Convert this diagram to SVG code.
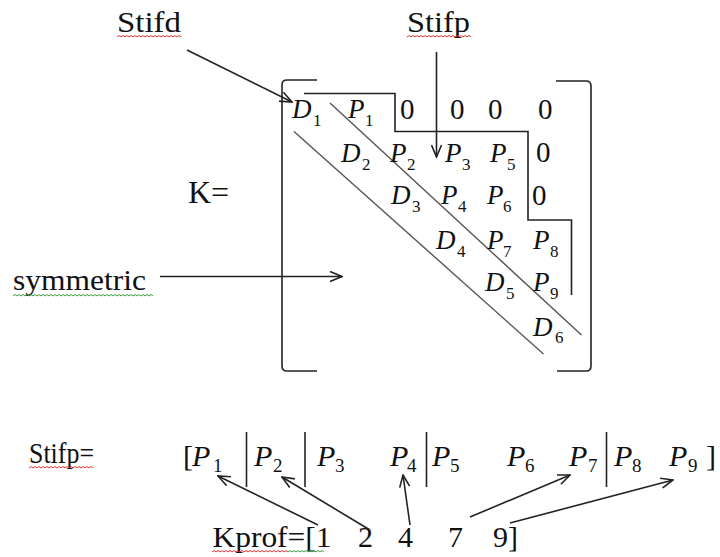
<svg xmlns="http://www.w3.org/2000/svg" width="720" height="557" viewBox="0 0 720 557" font-family="Liberation Serif, serif">
<style>
text{font-family:'Liberation Serif',serif}
.lbl{font-size:30px;fill:#111}
.m{font-style:italic;font-size:27px;fill:#111}
.ms{font-size:17px;fill:#111}
.z{font-size:29px;fill:#111}
.b{font-style:italic;font-size:30px;fill:#111}
.bs{font-size:19px;fill:#111}
.ln{fill:none;stroke:#222;stroke-width:1.6}
.dg{fill:none;stroke:#555;stroke-width:1.4}
.conn{fill:none;stroke:#222;stroke-width:1.6;marker-end:url(#open)}
.sqr{fill:none;stroke:#e03030;stroke-width:1}
.sqg{fill:none;stroke:#3a9a3a;stroke-width:1}
</style>
<defs>
<marker id="open" viewBox="0 0 14 12" refX="13" refY="6" markerWidth="14" markerHeight="12" markerUnits="userSpaceOnUse" orient="auto">
<path d="M1,1 L13,6 L1,11" fill="none" stroke="#222" stroke-width="1.6"/>
</marker>
</defs>
<rect width="720" height="557" fill="#fff"/>

<g id="label-stifd">
<text class="lbl" x="117" y="32" textLength="64" lengthAdjust="spacingAndGlyphs">Stifd</text>
<path class="sqr" d="M117,37 l2,-1.5 l2,1.5 l2,-1.5 l2,1.5 l2,-1.5 l2,1.5 l2,-1.5 l2,1.5 l2,-1.5 l2,1.5 l2,-1.5 l2,1.5 l2,-1.5 l2,1.5 l2,-1.5 l2,1.5 l2,-1.5 l2,1.5 l2,-1.5 l2,1.5 l2,-1.5 l2,1.5 l2,-1.5 l2,1.5 l2,-1.5 l2,1.5 l2,-1.5 l2,1.5 l2,-1.5 l2,1.5 l2,-1.5 l2,1.5"/>
</g>
<g id="label-stifp-top">
<text class="lbl" x="407" y="32" textLength="63" lengthAdjust="spacingAndGlyphs">Stifp</text>
<path class="sqr" d="M407,37 l2,-1.5 l2,1.5 l2,-1.5 l2,1.5 l2,-1.5 l2,1.5 l2,-1.5 l2,1.5 l2,-1.5 l2,1.5 l2,-1.5 l2,1.5 l2,-1.5 l2,1.5 l2,-1.5 l2,1.5 l2,-1.5 l2,1.5 l2,-1.5 l2,1.5 l2,-1.5 l2,1.5 l2,-1.5 l2,1.5 l2,-1.5 l2,1.5 l2,-1.5 l2,1.5 l2,-1.5 l2,1.5 l2,-1.5 l2,1.5"/>
</g>
<g id="label-k">
<text class="lbl" x="188" y="203" style="font-size:32px">K=</text>
</g>
<g id="label-symmetric">
<text class="lbl" x="13" y="290" textLength="133" lengthAdjust="spacingAndGlyphs">symmetric</text>
<path class="sqg" d="M13,296 l2,-1.5 l2,1.5 l2,-1.5 l2,1.5 l2,-1.5 l2,1.5 l2,-1.5 l2,1.5 l2,-1.5 l2,1.5 l2,-1.5 l2,1.5 l2,-1.5 l2,1.5 l2,-1.5 l2,1.5 l2,-1.5 l2,1.5 l2,-1.5 l2,1.5 l2,-1.5 l2,1.5 l2,-1.5 l2,1.5 l2,-1.5 l2,1.5 l2,-1.5 l2,1.5 l2,-1.5 l2,1.5 l2,-1.5 l2,1.5 l2,-1.5 l2,1.5 l2,-1.5 l2,1.5 l2,-1.5 l2,1.5 l2,-1.5 l2,1.5 l2,-1.5 l2,1.5 l2,-1.5 l2,1.5 l2,-1.5 l2,1.5 l2,-1.5 l2,1.5 l2,-1.5 l2,1.5 l2,-1.5 l2,1.5 l2,-1.5 l2,1.5 l2,-1.5 l2,1.5 l2,-1.5 l2,1.5 l2,-1.5 l2,1.5 l2,-1.5 l2,1.5 l2,-1.5 l2,1.5 l2,-1.5 l2,1.5 l2,-1.5 l2,1.5 l2,-1.5 l2,1.5"/>
</g>

<g id="matrix">
<path class="ln" d="M317,80 L287,80 Q282,80 282,85 L282,366 Q282,371 287,371 L317,371"/>
<path class="ln" d="M556,81 L586,81 Q591,81 591,86 L591,366 Q591,371 586,371 L557,371"/>
<path class="ln" d="M304,93.5 L395,93.5 L395,131.5 L528,131.5 L528,220 L571.5,220 L571.5,295"/>
<line class="dg" x1="330" y1="103" x2="581.5" y2="335"/>
<line class="dg" x1="294" y1="131.5" x2="543.5" y2="354"/>

<text class="m" x="292" y="118">D</text><text class="ms" x="313" y="126">1</text>
<text class="m" x="348" y="118">P</text><text class="ms" x="365" y="126">1</text>
<text class="z" x="400" y="119">0</text><text class="z" x="450" y="119">0</text><text class="z" x="488" y="119">0</text><text class="z" x="538" y="119">0</text>

<text class="m" x="341" y="162">D</text><text class="ms" x="362" y="170">2</text>
<text class="m" x="390" y="162">P</text><text class="ms" x="407" y="170">2</text>
<text class="m" x="445" y="162">P</text><text class="ms" x="462" y="170">3</text>
<text class="m" x="490" y="162">P</text><text class="ms" x="507" y="170">5</text>
<text class="z" x="536" y="162">0</text>

<text class="m" x="391" y="204">D</text><text class="ms" x="412" y="212">3</text>
<text class="m" x="441" y="204">P</text><text class="ms" x="458" y="212">4</text>
<text class="m" x="487" y="204">P</text><text class="ms" x="503" y="212">6</text>
<text class="z" x="532" y="205">0</text>

<text class="m" x="436" y="249">D</text><text class="ms" x="457" y="257">4</text>
<text class="m" x="487" y="249">P</text><text class="ms" x="503" y="257">7</text>
<text class="m" x="533" y="249">P</text><text class="ms" x="550" y="257">8</text>

<text class="m" x="485" y="291">D</text><text class="ms" x="506" y="299">5</text>
<text class="m" x="533" y="291">P</text><text class="ms" x="550" y="299">9</text>

<text class="m" x="533" y="336">D</text><text class="ms" x="555" y="343">6</text>
</g>

<g id="stifp-vector">
<text class="lbl" x="29" y="463" textLength="65" lengthAdjust="spacingAndGlyphs">Stifp=</text>
<path class="sqr" d="M29,468 l2,-1.5 l2,1.5 l2,-1.5 l2,1.5 l2,-1.5 l2,1.5 l2,-1.5 l2,1.5 l2,-1.5 l2,1.5 l2,-1.5 l2,1.5 l2,-1.5 l2,1.5 l2,-1.5 l2,1.5 l2,-1.5 l2,1.5 l2,-1.5 l2,1.5 l2,-1.5 l2,1.5 l2,-1.5 l2,1.5 l2,-1.5 l2,1.5 l2,-1.5 l2,1.5 l2,-1.5 l2,1.5 l2,-1.5 l2,1.5"/>
<text class="z" x="183" y="466" style="font-size:30px">[</text>
<text class="b" x="192" y="466">P</text><text class="bs" x="213" y="472">1</text>
<line class="ln" x1="246.5" y1="432" x2="246.5" y2="487"/>
<text class="b" x="254" y="466">P</text><text class="bs" x="273" y="472">2</text>
<line class="ln" x1="305" y1="432" x2="305" y2="487"/>
<text class="b" x="317" y="466">P</text><text class="bs" x="335" y="472">3</text>
<text class="b" x="390" y="466">P</text><text class="bs" x="407" y="472">4</text>
<line class="ln" x1="426.5" y1="432" x2="426.5" y2="487"/>
<text class="b" x="432" y="466">P</text><text class="bs" x="450" y="472">5</text>
<text class="b" x="507" y="466">P</text><text class="bs" x="525" y="472">6</text>
<text class="b" x="569" y="466">P</text><text class="bs" x="588" y="472">7</text>
<line class="ln" x1="606.5" y1="432" x2="606.5" y2="487"/>
<text class="b" x="614" y="466">P</text><text class="bs" x="632" y="472">8</text>
<text class="b" x="669" y="466">P</text><text class="bs" x="688" y="472">9</text>
<text class="z" x="706" y="466" style="font-size:30px">]</text>
</g>

<g id="kprof-vector">
<text class="lbl" x="212.5" y="547" textLength="119" lengthAdjust="spacingAndGlyphs">Kprof=[1</text>
<path class="sqr" d="M212,552 l2,-1.5 l2,1.5 l2,-1.5 l2,1.5 l2,-1.5 l2,1.5 l2,-1.5 l2,1.5 l2,-1.5 l2,1.5 l2,-1.5 l2,1.5 l2,-1.5 l2,1.5 l2,-1.5 l2,1.5 l2,-1.5 l2,1.5 l2,-1.5 l2,1.5 l2,-1.5 l2,1.5 l2,-1.5 l2,1.5 l2,-1.5 l2,1.5 l2,-1.5 l2,1.5 l2,-1.5 l2,1.5 l2,-1.5 l2,1.5 l2,-1.5 l2,1.5 l2,-1.5 l2,1.5 l2,-1.5 l2,1.5"/>
<path class="sqg" d="M288,552 l2,-1.5 l2,1.5 l2,-1.5 l2,1.5 l2,-1.5 l2,1.5 l2,-1.5 l2,1.5 l2,-1.5 l2,1.5 l2,-1.5 l2,1.5 l2,-1.5 l2,1.5 l2,-1.5 l2,1.5 l2,-1.5 l2,1.5"/>
<text class="lbl" x="358" y="547">2</text>
<text class="lbl" x="398" y="547">4</text>
<text class="lbl" x="448" y="547">7</text>
<text class="lbl" x="493" y="547">9]</text>
</g>

<g id="connectors">
<line class="conn" x1="187" y1="50" x2="292" y2="102"/>
<line class="conn" x1="436.5" y1="52" x2="436.5" y2="157"/>
<line class="conn" x1="160" y1="276.5" x2="342" y2="276.5"/>
<line class="conn" x1="318" y1="525" x2="218" y2="476"/>
<line class="conn" x1="370" y1="530" x2="282" y2="477"/>
<line class="conn" x1="410" y1="525" x2="403" y2="475"/>
<line class="conn" x1="470" y1="517" x2="570" y2="475"/>
<line class="conn" x1="510" y1="523" x2="673" y2="480"/>
</g>
</svg>
